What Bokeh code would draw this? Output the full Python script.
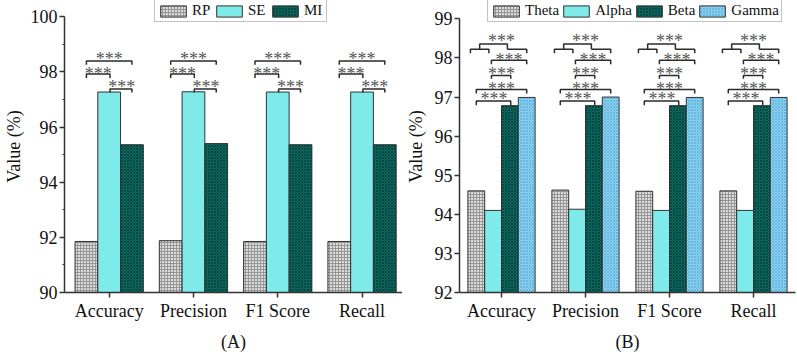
from bokeh.plotting import figure
from bokeh.layouts import row
from bokeh.models import Range1d, FixedTicker, Legend, LegendItem, ColumnDataSource
from bokeh.core.properties import value
from bokeh.embed import file_html
from bokeh.resources import INLINE

# ---------------- data ----------------
categories = ["Accuracy", "Precision", "F1 Score", "Recall"]

# Panel (A)
rp = [91.85, 91.88, 91.85, 91.85]
se = [97.27, 97.28, 97.27, 97.27]
mi = [95.36, 95.40, 95.36, 95.36]

# Panel (B)
theta = [94.60, 94.62, 94.59, 94.60]
alpha = [94.10, 94.13, 94.10, 94.10]
beta = [96.78, 96.78, 96.78, 96.78]
gamma = [96.99, 97.00, 96.99, 96.99]

stars_label = "***"

# significance brackets (offset start, offset end, line level, left leg end, right leg end, star offset, star level)
sig_a = [
    (-0.27, 0.27, 98.40, 98.26, 98.26, 0.0, 98.61),
    (-0.27, 0.01, 97.92, 97.78, 97.78, -0.13, 98.08),
    (0.01, 0.27, 97.38, 97.25, 97.25, 0.15, 97.58),
]
sig_b = [
    (-0.26, 0.07, 98.36, 98.22, 98.22, 0.0, 98.53),
    (-0.37, -0.15, 98.22, 98.12, 98.12, None, None),
    (0.07, 0.30, 98.22, 98.22, 98.12, None, None),
    (-0.12, 0.30, 97.94, 97.84, 97.84, 0.09, 98.06),
    (-0.12, 0.11, 97.55, 97.47, 97.47, 0.0, 97.68),
    (-0.30, 0.30, 97.19, 97.09, 97.09, 0.0, 97.32),
    (-0.30, 0.11, 96.90, 96.79, 96.79, -0.09, 97.04),
]

FONT = "Liberation Serif"
AXIS_COLOR = "#333333"

styles = {
    "gray": dict(fill_color="#dcdcdc", hatch_pattern="+", hatch_color="#969696", hatch_scale=3, hatch_weight=1),
    "cyan": dict(fill_color="#7eeaea"),
    "teal": dict(fill_color="#0c6e66", hatch_pattern="x", hatch_color="#05463f", hatch_scale=3, hatch_weight=1),
    "blue": dict(fill_color="#90d4f0", hatch_pattern="x", hatch_color="#5aaede", hatch_scale=3, hatch_weight=0.8),
}


def style_axes(p, yticks, ybounds, xlabel, ylabel_standoff):
    cat_x = list(range(1, len(categories) + 1))
    p.xaxis.ticker = FixedTicker(ticks=cat_x, minor_ticks=[])
    p.xaxis.major_label_overrides = {i: c for i, c in zip(cat_x, categories)}
    p.yaxis.ticker = FixedTicker(ticks=yticks["major"], minor_ticks=yticks["minor"])
    p.yaxis.bounds = ybounds
    p.xaxis.axis_label = xlabel
    p.yaxis.axis_label = "Value (%)"
    for ax in (p.xaxis[0], p.yaxis[0]):
        ax.axis_line_color = AXIS_COLOR
        ax.axis_line_width = 1.5
        ax.major_tick_line_color = AXIS_COLOR
        ax.major_tick_line_width = 1.5
        ax.minor_tick_line_color = AXIS_COLOR
        ax.major_tick_out = 5
        ax.major_tick_in = 0
        ax.minor_tick_out = 2
        ax.minor_tick_in = 0
        ax.major_label_text_font = FONT
        ax.major_label_text_font_size = "18px"
        ax.major_label_text_color = "#111111"
        ax.axis_label_text_font = FONT
        ax.axis_label_text_font_size = "18px"
        ax.axis_label_text_font_style = "normal"
        ax.axis_label_text_color = "#111111"
    p.xaxis.major_label_standoff = 3
    p.xaxis.axis_label_standoff = 8
    p.yaxis.major_label_standoff = 2
    p.yaxis.axis_label_standoff = ylabel_standoff
    p.xgrid.visible = False
    p.ygrid.visible = False
    p.outline_line_color = None


def add_brackets(p, specs):
    xs, ys, tx, ty = [], [], [], []
    for i in range(len(categories)):
        c = i + 1
        for (a, b, yl, l0, l1, sx, sy) in specs:
            xs.append([c + a, c + a, c + b, c + b])
            ys.append([l0, yl, yl, l1])
            if sx is not None:
                tx.append(c + sx)
                ty.append(sy)
    p.multi_line(xs=xs, ys=ys, line_color="#2b2b2b", line_width=1.5)
    p.text(x=tx, y=ty, text=[stars_label] * len(tx), text_font=value(FONT),
           text_font_size="18px", text_align="center", text_baseline="middle",
           text_color="#555555", y_offset=4)


def make_panel(series, names, keys, offsets, width, ybase, yend, yticks, ybounds,
               xlabel, fig_w, border_left, border_right, xr, legend_x, ylabel_standoff, specs):
    p = figure(width=fig_w, height=356, output_backend="svg", toolbar_location=None,
               x_range=Range1d(*xr), y_range=Range1d(ybase, yend),
               min_border_left=border_left, min_border_right=border_right,
               min_border_top=0, min_border_bottom=64)
    p.background_fill_color = "white"
    p.border_fill_color = "white"
    items = []
    for vals, name, key, off in zip(series, names, keys, offsets):
        src = ColumnDataSource(dict(x=[i + 1 + off for i in range(len(vals))], top=vals))
        r = p.vbar(x="x", top="top", bottom=ybase, width=width, source=src,
                   line_color="#333333", line_width=1, **styles[key])
        items.append(LegendItem(label=name, renderers=[r]))
    add_brackets(p, specs)
    style_axes(p, yticks, ybounds, xlabel, ylabel_standoff)
    leg = Legend(items=items, orientation="horizontal", location=(legend_x, 270),
                 glyph_width=32, glyph_height=14, label_standoff=3, spacing=1,
                 padding=2, margin=0, label_text_font=FONT, label_text_font_size="15px",
                 label_text_color="#111111", border_line_color="#888888",
                 border_line_width=1, background_fill_alpha=1.0,
                 label_height=14)
    p.add_layout(leg, "center")
    return p


p1 = make_panel([rp, se, mi], ["RP", "SE", "MI"], ["gray", "cyan", "teal"],
                [-0.27, 0.0, 0.27], 0.27, 90, 100.59,
                {"major": [90, 92, 94, 96, 98, 100], "minor": [91, 93, 95, 97, 99]},
                (90, 100), "(A)", 402, 60, 0, (0.47, 4.48), 90, 4, sig_a)

p2 = make_panel([theta, alpha, beta, gamma], ["Theta", "Alpha", "Beta", "Gamma"],
                ["gray", "cyan", "teal", "blue"],
                [-0.3, -0.1, 0.1, 0.3], 0.2, 92, 99.47,
                {"major": [92, 93, 94, 95, 96, 97, 98, 99], "minor": []},
                (92, 99), "(B)", 395, 51, 2, (0.5, 4.5), 28, 6, sig_b)

layout = row(p1, p2)
open("out.html", "w").write(file_html(layout, INLINE))
